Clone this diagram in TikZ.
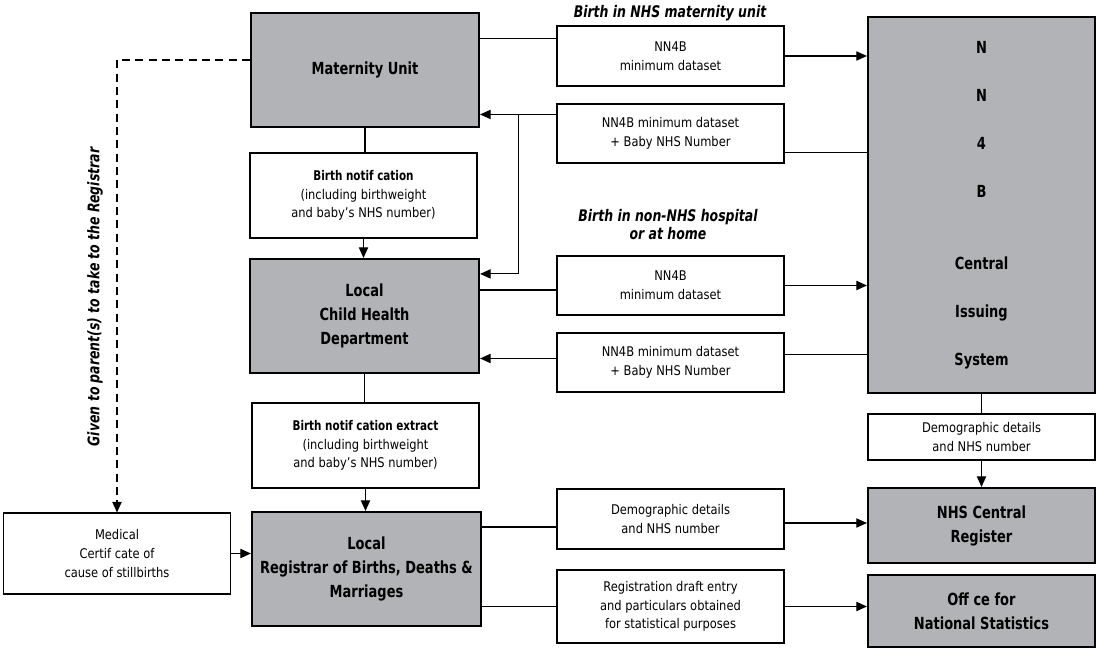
\documentclass[tikz,border=0pt]{standalone}
\usepackage{fontspec}
\setmainfont{DejaVu Sans}[FakeStretch=0.86,
  BoldFeatures={FakeStretch=0.78}, BoldItalicFeatures={FakeStretch=0.78}]
\usepackage{tikz}
\usetikzlibrary{arrows.meta,calc}
\definecolor{boxgray}{RGB}{178,179,182}
\tikzset{
  >={Triangle[length=8pt,width=7pt]},
  conn/.style={line width=0.8pt},
  arrow/.style={conn,->},
  dasharrow/.style={->,line width=1.1pt,dash pattern=on 6pt off 4pt}
}

\begin{document}
\begin{tikzpicture}[x=0.75pt,y=-0.75pt,
  gbox/.style={draw, line width=1.6pt, fill=boxgray, align=center, inner sep=0pt, font=\bfseries\fontsize{12.5}{18}\selectfont},
  wbox/.style={draw, line width=0.8pt, fill=white, align=center, inner sep=0pt, minimum width=170.25pt, font=\fontsize{10}{13.9}\selectfont},
  note/.style={align=center, font=\bfseries\itshape\fontsize{12}{13}\selectfont}
]
\useasboundingbox (0,0) rectangle (1096,648);

% The boxes
\node[gbox, minimum width=171pt, minimum height=85.5pt] (mat) at (365,70) {Maternity Unit};
\node[wbox, minimum height=63.75pt] (notif) at (363.5,195.5) {\textbf{Birth notif cation}\\(including birthweight\\and baby’s NHS number)};
\node[gbox, minimum width=171.75pt, minimum height=85.5pt] (lch) at (364.5,316) {Local\\Child Health\\Department};
\node[wbox, minimum height=63.75pt] (extract) at (365.5,445.5) {\textbf{Birth notif cation extract}\\(including birthweight\\and baby’s NHS number)};
\node[gbox, minimum width=171.75pt, minimum height=85.5pt] (reg) at (366.5,569) {Local\\Registrar of Births, Deaths \&\\Marriages};
\node[wbox, minimum height=60.75pt] (med) at (117,553.5) {Medical\\Certif cate of\\cause of stillbirths};

\node[wbox, minimum height=45pt] (nn1) at (670.5,56) {NN4B\\minimum dataset};
\node[wbox, minimum height=44.25pt] (nn2) at (670.5,133.5) {NN4B minimum dataset\\+ Baby NHS Number};
\node[wbox, minimum height=44.25pt] (nn3) at (670.5,285.5) {NN4B\\minimum dataset};
\node[wbox, minimum height=44.25pt] (nn4) at (670.5,362.5) {NN4B minimum dataset\\+ Baby NHS Number};
\node[wbox, minimum height=45pt] (dem1) at (670.5,519) {Demographic details\\and NHS number};
\node[wbox, minimum height=54.75pt] (draft) at (670.5,606.5) {Registration draft entry\\and particulars obtained\\for statistical purposes};

\node[gbox, minimum width=170.25pt, minimum height=282pt, font=\bfseries\fontsize{12.5}{36}\selectfont] (nhs) at (981.5,205) {N\\N\\4\\B\\[18pt]Central\\Issuing\\System};
\node[wbox, minimum height=34.5pt] (dem2) at (981.5,437) {Demographic details\\and NHS number};
\node[gbox, minimum width=170.25pt, minimum height=56.25pt] (ncr) at (981.5,525.5) {NHS Central\\Register};
\node[gbox, minimum width=170.25pt, minimum height=54pt] (ons) at (981.5,611) {Off ce for\\National Statistics};

% The labels
\node[note] (nhsbirth) at (670,13) {Birth in NHS maternity unit};
\node[note] (homebirth) at (668,224.5) {Birth in non-NHS hospital\\or at home};
\node[note, rotate=90] (parents) at (95,297) {Given to parent(s) to take to the Registrar};

% The junctions
\coordinate (matout) at ($(mat.north east)+(0,27)$);
\coordinate (matdash) at ($(mat.west)+(0,-10)$);
\coordinate (nhsout1) at ($(nhs.north west)+(0,137)$);
\coordinate (nhsout2) at ($(nhs.south west)+(0,-40)$);
\coordinate (nn2out) at ($(nn2.north west)+(0,11)$);
\coordinate (split) at ($(mat.east)!0.5!(nn2.west)$);
\coordinate (lchin) at ($(lch.north east)+(0,16)$);
\coordinate (lchout) at ($(nn3.west)+(0,4.5)$);
\coordinate (nn4out) at ($(nn4.west)+(0,-4)$);
\coordinate (regout) at ($(dem1.west)+(0,8)$);
\coordinate (dem1out) at ($(dem1.east)+(0,4)$);

% The connections
\draw[conn] (matout) -- (matout -| nn1.west);
\draw[arrow] (nn1.east) -- (nn1.east -| nhs.west);
\draw[conn] (nhsout1) -- (nhsout1 -| nn2.east);
\draw[arrow] (nn2out) -- (nn2out -| split) |- (lchin);
\draw[arrow] (nn2out -| split) -- (nn2out -| mat.east);

\draw[conn] (lchout -| lch.east) -- (lchout);
\draw[arrow] (nn3.east) -- (nn3.east -| nhs.west);
\draw[conn] (nhsout2) -- (nhsout2 -| nn4.east);
\draw[arrow] (nn4out) -- (nn4out -| lch.east);

\draw[conn] (mat.south) -- (mat.south |- notif.north);
\draw[arrow] (notif.south) -- (notif.south |- lch.north);
\draw[conn] (lch.south) -- (lch.south |- extract.north);
\draw[arrow] (extract.south) -- (extract.south |- reg.north);

\draw[dasharrow] (matdash) -| (med.north);
\draw[arrow] (med.east) -- (med.east -| reg.west);

\draw[conn] (regout -| reg.east) -- (regout);
\draw[arrow] (dem1out) -- (dem1out -| ncr.west);
\draw[conn] (draft.west -| reg.east) -- (draft.west);
\draw[arrow] (draft.east) -- (draft.east -| ons.west);

\draw[conn] (nhs.south) -- (nhs.south |- dem2.north);
\draw[arrow] (dem2.south) -- (dem2.south |- ncr.north);

\end{tikzpicture}
\end{document}
